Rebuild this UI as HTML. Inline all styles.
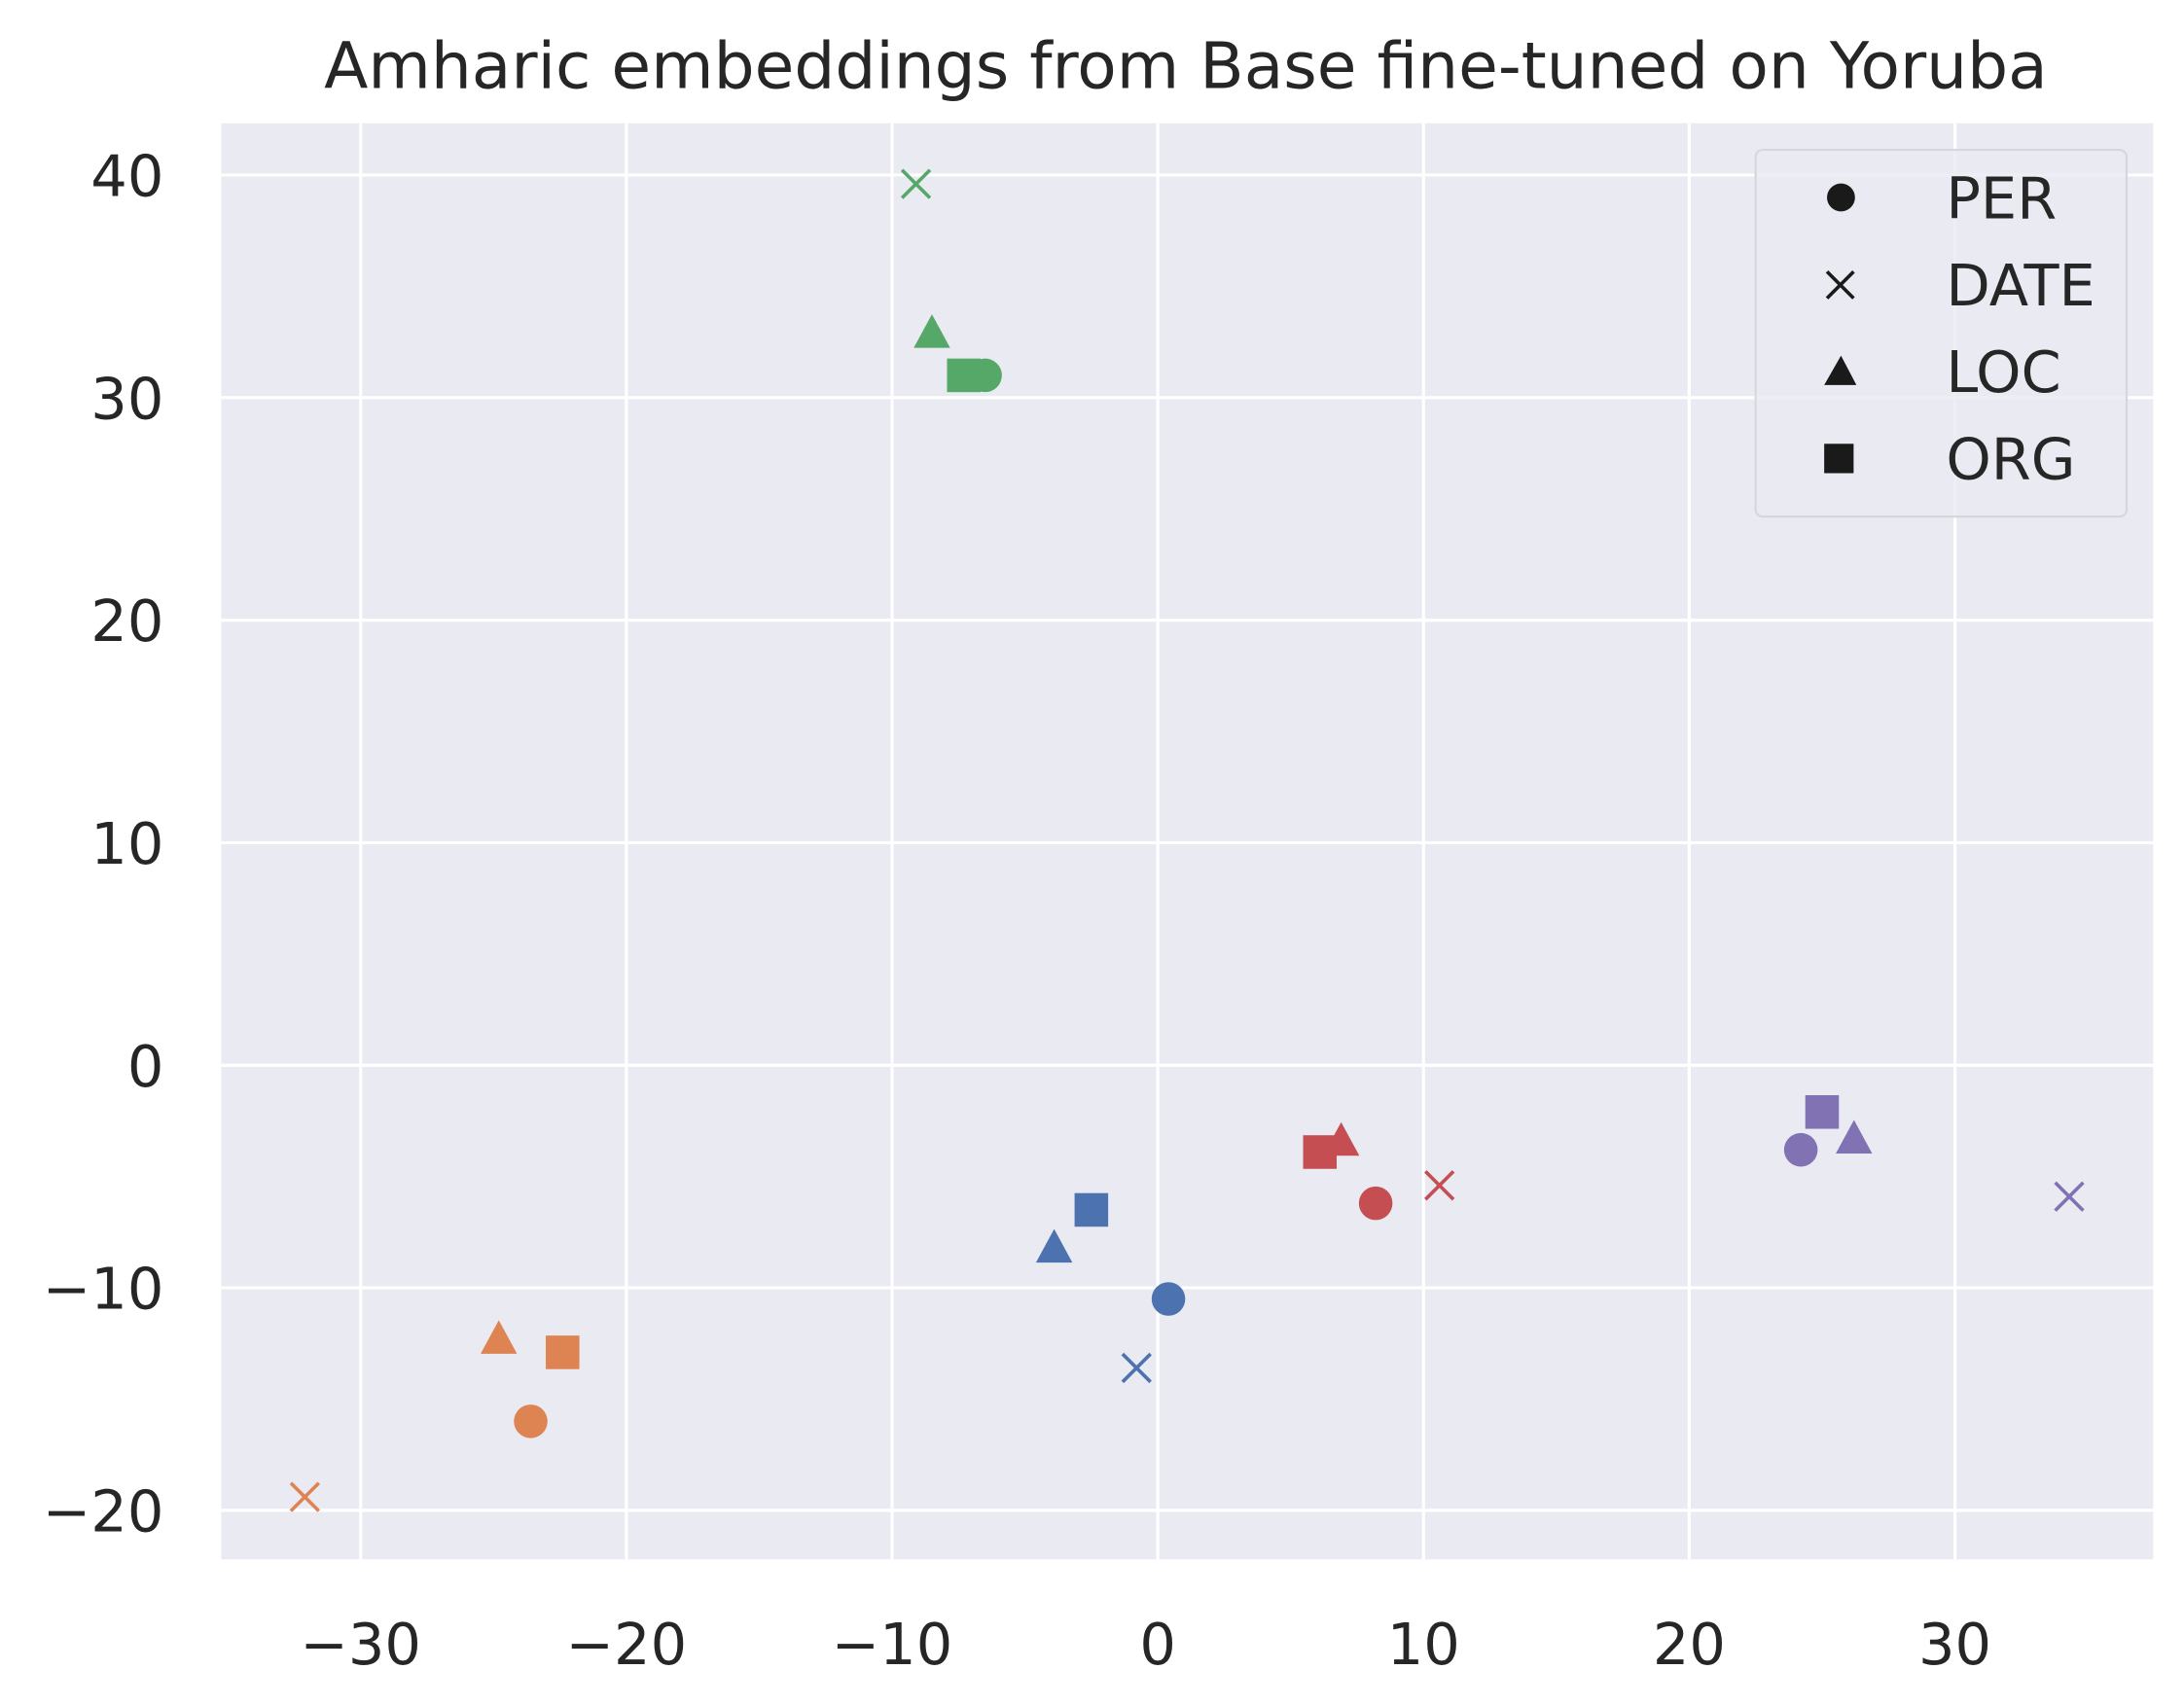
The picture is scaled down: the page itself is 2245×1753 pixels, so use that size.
<!DOCTYPE html>
<html><head><meta charset="utf-8"><style>
html,body{margin:0;padding:0;background:#fff}
svg{display:block}
text{font-family:"DejaVu Sans","Liberation Sans",sans-serif;fill:#262626}
</style></head><body>
<svg id="chart" width="2245" height="1753" viewBox="0 0 1560 1218" xmlns="http://www.w3.org/2000/svg">
<rect x="158" y="88" width="1380" height="1026" fill="#EAEAF2"/>
<g id="grid"></g>
<g id="ticks"></g>
<g id="points"></g>
<text x="847" y="63" text-anchor="middle" font-size="46">Amharic embeddings from Base fine-tuned on Yoruba</text>
<g>
<rect x="1254" y="107" width="265" height="262" rx="5" fill="#EAEAF2" fill-opacity="0.8" stroke="#d6d6de" stroke-width="1.5"/>
<g><circle cx="1315" cy="141" r="10" fill="#1a1a1a"/><text x="1390" y="156" font-size="41">PER</text></g>
<g><path d="M1305 194 L1324 213 M1324 194 L1305 213" stroke="#1a1a1a" stroke-width="2.5"/><text x="1390" y="218" font-size="41">DATE</text></g>
<g><path d="M1315 254 L1326 275 L1303 275 Z" fill="#1a1a1a"/><text x="1390" y="280" font-size="41">LOC</text></g>
<g><rect x="1303" y="317" width="21" height="21" fill="#1a1a1a"/><text x="1390" y="342" font-size="41">ORG</text></g>
</g>
</svg>
<script>
const xTicks = [-30,-20,-10,0,10,20,30];
const yTicks = [-20,-10,0,10,20,30,40];
const colors = ["#4C72B0","#DD8452","#55A868","#C44E52","#8172B3"];
const perX = [0.4,-23.6,-6.5,8.2,24.2];
const perY = [-10.5,-16.0,31.0,-6.2,-3.8];
const dateX = [-0.8,-32.1,-9.1,10.6,34.3];
const dateY = [-13.6,-19.4,39.6,-5.4,-5.9];
const locX = [-3.9,-24.8,-8.5,6.9,26.2];
const locY = [-8.3,-12.4,32.8,-3.5,-3.4];
const orgX = [-2.5,-22.4,-7.3,6.1,25.0];
const orgY = [-6.5,-12.9,31.0,-3.9,-2.1];

const NS="http://www.w3.org/2000/svg";
const sx = v => 827 + v*18.98;
const sy = v => 761 - v*15.9;
function mk(tag, attrs, parent){const e=document.createElementNS(NS,tag);for(const k in attrs)e.setAttribute(k,attrs[k]);parent.appendChild(e);return e;}
const grid=document.getElementById('grid'), ticks=document.getElementById('ticks'), pts=document.getElementById('points');
const fmt = v => v<0 ? "\u2212"+(-v) : String(v);
xTicks.forEach(t=>{
  const l=mk('line',{x1:sx(t),x2:sx(t),y1:88,y2:1114,stroke:'#fff','stroke-width':2.2},grid);
  
  
  const tx=mk('text',{x:sx(t),y:1189,'text-anchor':'middle','font-size':41},ticks);
  tx.textContent=fmt(t);
  
  
});
yTicks.forEach(t=>{
  const l=mk('line',{y1:sy(t),y2:sy(t),x1:158,x2:1538,stroke:'#fff','stroke-width':2.2},grid);
  
  
  const tx=mk('text',{x:117,y:sy(t)+15,'text-anchor':'end','font-size':41},ticks);
  tx.textContent=fmt(t);
  
  
});
for(let i=0;i<5;i++){
  const c=colors[i];
  let x=sx(dateX[i]), y=sy(dateY[i]);
  const d=mk('path',{d:`M${x-10} ${y-10} L${x+10} ${y+10} M${x+10} ${y-10} L${x-10} ${y+10}`,stroke:c,'stroke-width':2.5},pts);
  
  
  x=sx(locX[i]); y=sy(locY[i]);
  const lo=mk('path',{d:`M${x} ${y-15} L${x+13} ${y+9} L${x-13} ${y+9} Z`,fill:c},pts);
  
  
  x=sx(orgX[i]); y=sy(orgY[i]);
  const o=mk('rect',{x:x-12,y:y-12,width:24,height:24,fill:c},pts);
  
  
  x=sx(perX[i]); y=sy(perY[i]);
  const p=mk('circle',{cx:x,cy:y,r:12,fill:c},pts);
  
  
}
</script>
</body></html>
